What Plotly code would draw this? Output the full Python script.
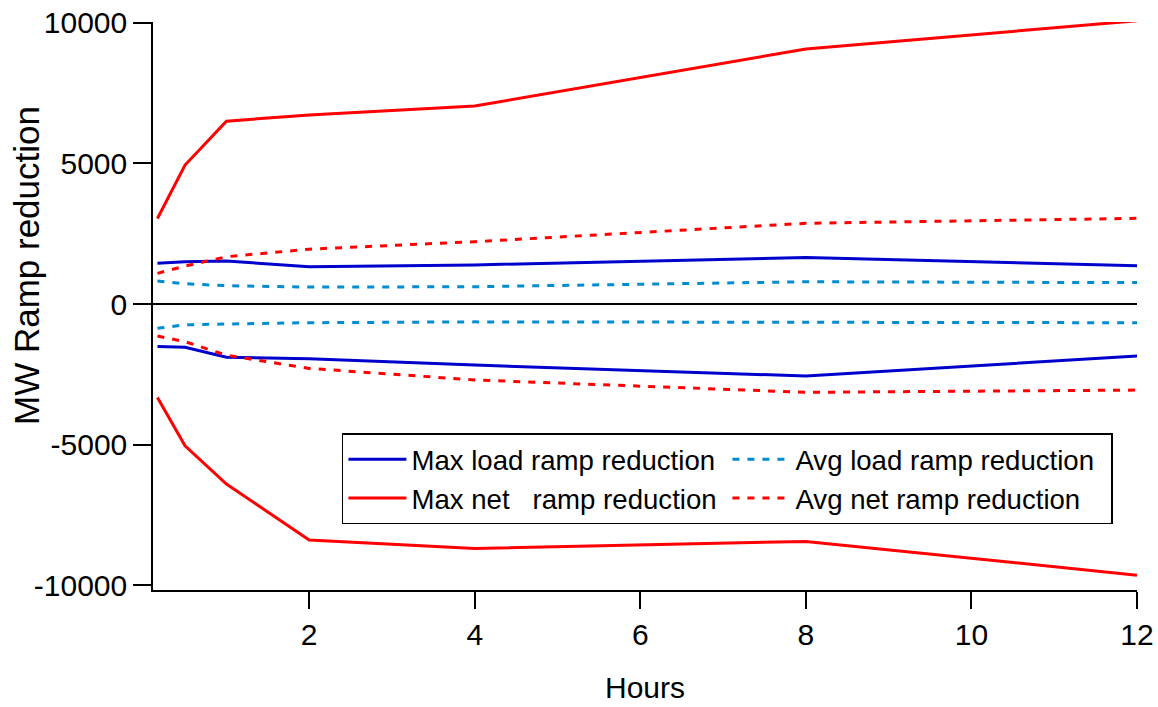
import plotly.graph_objects as go

hours = [1/6, 0.5, 1, 2, 4, 8, 12]

max_load_up = [1450, 1500, 1530, 1320, 1390, 1650, 1360]
max_load_dn = [-1510, -1540, -1890, -1950, -2170, -2560, -1850]
avg_load_up = [815, 720, 650, 600, 615, 790, 760]
avg_load_dn = [-865, -740, -710, -665, -635, -655, -665]
max_net_up = [3040, 4940, 6500, 6720, 7040, 9065, 10070]
max_net_dn = [-3320, -5040, -6400, -8390, -8690, -8440, -9640]
avg_net_up = [1090, 1350, 1680, 1950, 2215, 2870, 3045]
avg_net_dn = [-1140, -1340, -1820, -2290, -2700, -3140, -3060]

y_tickvals = [-10000, -5000, 0, 5000, 10000]
y_ticktext = ["-10000", "-5000", "0", "5000", "10000"]
x_tickvals = [2, 4, 6, 8, 10, 12]

BLUE = "rgb(0,0,204)"
LBLUE = "rgb(0,140,208)"
RED = "rgb(255,0,0)"
DOT = "7px,8px"
LW = 3

fig = go.Figure()

def add(y, color, dash, name, show):
    fig.add_trace(go.Scatter(
        x=hours, y=y, mode="lines", name=name, showlegend=show,
        line=dict(color=color, width=LW, dash=dash),
        legendgroup=name))

add(max_load_up, BLUE, "solid", "Max load ramp reduction", True)
add(avg_load_up, LBLUE, DOT, "Avg load ramp reduction", True)
add(max_net_up, RED, "solid", "Max net   ramp reduction", True)
add(avg_net_up, RED, DOT, "Avg net ramp reduction", True)
add(max_load_dn, BLUE, "solid", "Max load ramp reduction", False)
add(avg_load_dn, LBLUE, DOT, "Avg load ramp reduction", False)
add(max_net_dn, RED, "solid", "Max net   ramp reduction", False)
add(avg_net_dn, RED, DOT, "Avg net ramp reduction", False)

FONT = "Liberation Sans, Arial, sans-serif"
ML, MR, MT, MB = 153, 21, 22, 117
W, H = 1158, 707

fig.update_layout(
    width=W, height=H,
    margin=dict(l=ML, r=MR, t=MT, b=MB, autoexpand=False),
    paper_bgcolor="white", plot_bgcolor="white",
    font=dict(family=FONT, size=30, color="black"),
    showlegend=True,
    legend=dict(
        orientation="h", x=0.192, xanchor="left", y=0.276, yanchor="top",
        bgcolor="white", bordercolor="black", borderwidth=1.5,
        font=dict(family=FONT, size=27.6, color="black"),
        itemwidth=58, entrywidth=311, entrywidthmode="pixels",
        traceorder="normal",
    ),
    xaxis=dict(
        range=[0.113, 12.0], tickvals=x_tickvals, ticks="outside", ticklen=17,
        tickwidth=1.5, tickcolor="black", showline=True, linecolor="black",
        linewidth=1.5, showgrid=False, zeroline=False, automargin=False,
        tickfont=dict(family=FONT, size=30),
    ),
    yaxis=dict(
        range=[-10167, 10025], tickvals=y_tickvals, ticktext=y_ticktext,
        ticks="outside", ticklen=18, tickwidth=1.5, tickcolor="black",
        showline=True, linecolor="black", linewidth=1.5, showgrid=False,
        zeroline=True, zerolinecolor="black", zerolinewidth=1.5,
        automargin=False,
        tickfont=dict(family=FONT, size=30),
    ),
)

pw, ph = W - ML - MR, H - MT - MB

def px2paper(px, py):
    return (px - ML) / pw, (H - MB - py) / ph

tx, ty = px2paper(26, 266)
hx, hy = px2paper(645, 687)
fig.add_annotation(text="MW Ramp reduction", textangle=-90, x=tx, y=ty,
                   xref="paper", yref="paper", showarrow=False,
                   xanchor="center", yanchor="middle",
                   font=dict(family=FONT, size=35))
fig.add_annotation(text="Hours", x=hx, y=hy, xref="paper", yref="paper",
                   showarrow=False, xanchor="center", yanchor="middle",
                   font=dict(family=FONT, size=30))

fig.write_html("out.html")
